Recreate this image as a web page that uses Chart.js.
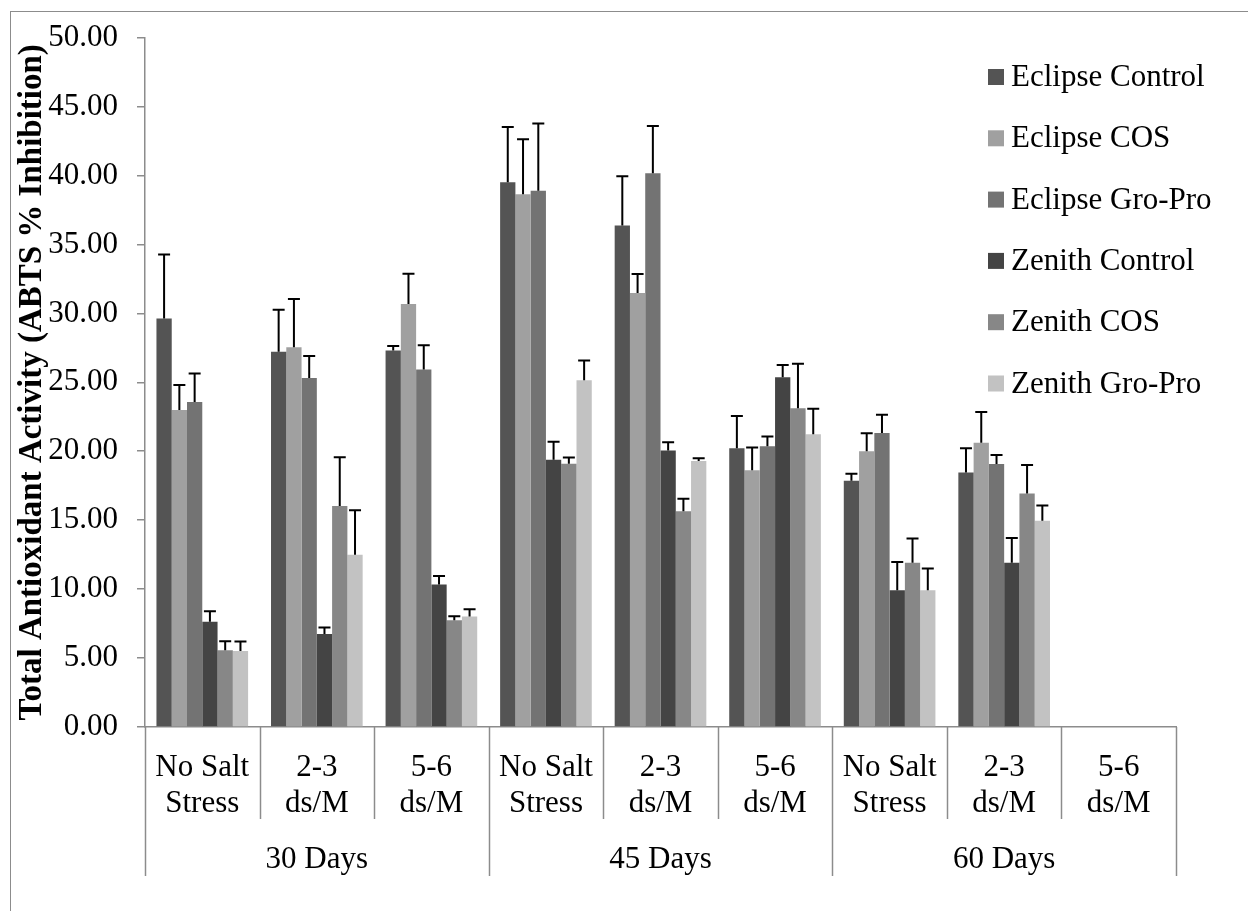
<!DOCTYPE html>
<html>
<head>
<meta charset="utf-8">
<title>Total Antioxidant Activity</title>
<script src="https://cdn.jsdelivr.net/npm/chart.js@4.4.1/dist/chart.umd.min.js"></script>
<style>
  html, body { margin: 0; padding: 0; background: #fff; overflow: hidden; }
  #wrap { position: relative; width: 1248px; height: 911px; }
  #frame { position: absolute; left: 10px; top: 11px; width: 1300px; height: 1000px; border: 1.5px solid #8c8c8c; box-sizing: border-box; }
  #chartCanvas { position: absolute; left: 0; top: 0; }
</style>
</head>
<body>
<div id="wrap">
  <div id="frame"></div>
  <canvas id="chartCanvas" width="1248" height="911"></canvas>
</div>
<script>
// --- data ---
const conditions = [
  ["No Salt", "Stress"], ["2-3", "ds/M"], ["5-6", "ds/M"],
  ["No Salt", "Stress"], ["2-3", "ds/M"], ["5-6", "ds/M"],
  ["No Salt", "Stress"], ["2-3", "ds/M"], ["5-6", "ds/M"]
];
const stages = ["30 Days", "45 Days", "60 Days"];
const seriesNames = ["Eclipse Control", "Eclipse COS", "Eclipse Gro-Pro", "Zenith Control", "Zenith COS", "Zenith Gro-Pro"];
const yTicks = [0, 5, 10, 15, 20, 25, 30, 35, 40, 45, 50];

const eclipseControl    = [29.63, 27.22, 27.31, 39.51, 36.37, 20.21, 17.86, 18.45, 0];
const eclipseControlErr = [4.63, 3.05, 0.32, 4.00, 3.58, 2.35, 0.50, 1.76, 0];
const eclipseCos        = [23.00, 27.54, 30.68, 38.63, 31.48, 18.63, 20.00, 20.62, 0];
const eclipseCosErr     = [1.80, 3.50, 2.20, 4.00, 1.38, 1.64, 1.30, 2.23, 0];
const eclipseGroPro     = [23.58, 25.32, 25.93, 38.90, 40.16, 20.36, 21.33, 19.07, 0];
const eclipseGroProErr  = [2.05, 1.58, 1.76, 4.87, 3.43, 0.70, 1.32, 0.65, 0];
const zenithControl     = [7.63, 6.75, 10.33, 19.39, 20.06, 25.37, 9.91, 11.91, 0];
const zenithControlErr  = [0.76, 0.47, 0.62, 1.29, 0.59, 0.88, 2.05, 1.79, 0];
const zenithCos         = [5.57, 16.02, 7.74, 19.10, 15.64, 23.12, 11.91, 16.93, 0];
const zenithCosErr      = [0.65, 3.55, 0.30, 0.44, 0.91, 3.22, 1.76, 2.08, 0];
const zenithGroPro      = [5.51, 12.50, 8.01, 25.14, 19.30, 21.24, 9.91, 14.96, 0];
const zenithGroProErr   = [0.70, 3.22, 0.53, 1.44, 0.20, 1.85, 1.58, 1.11, 0];

const seriesValues = [eclipseControl, eclipseCos, eclipseGroPro, zenithControl, zenithCos, zenithGroPro];
const seriesErrors = [eclipseControlErr, eclipseCosErr, eclipseGroProErr, zenithControlErr, zenithCosErr, zenithGroProErr];
const seriesColors = ["#545454", "#a0a0a0", "#737373", "#444444", "#878787", "#c2c2c2"];

const FONT = "'Liberation Serif', 'Times New Roman', serif";
const AXIS_GREY = "#8c8c8c";

// --- error bars (upper only) ---
const errorBars = {
  id: "errorBars",
  afterDatasetsDraw(chart) {
    const { ctx, scales: { y } } = chart;
    ctx.save();
    ctx.strokeStyle = "#000";
    ctx.lineWidth = 2;
    chart.data.datasets.forEach((ds, di) => {
      const meta = chart.getDatasetMeta(di);
      meta.data.forEach((bar, i) => {
        const err = seriesErrors[di][i];
        if (!err) return;
        const top = y.getPixelForValue(ds.data[i] + err);
        ctx.beginPath();
        ctx.moveTo(bar.x, bar.y);
        ctx.lineTo(bar.x, top);
        ctx.moveTo(bar.x - 6, top);
        ctx.lineTo(bar.x + 6, top);
        ctx.stroke();
      });
    });
    ctx.restore();
  }
};

// --- two-level category axis: separators + stage labels ---
const groupAxis = {
  id: "groupAxis",
  afterDraw(chart) {
    const { ctx, scales: { x } } = chart;
    const base = chart.chartArea.bottom;
    const step = (x.right - x.left) / conditions.length;
    ctx.save();
    ctx.strokeStyle = AXIS_GREY;
    ctx.lineWidth = 1.5;
    for (let i = 0; i <= conditions.length; i++) {
      const px = Math.round(x.left + i * step) + 0.5;
      ctx.beginPath();
      ctx.moveTo(px, base);
      ctx.lineTo(px, i % 3 === 0 ? 876 : 819);
      ctx.stroke();
    }
    ctx.fillStyle = "#000";
    ctx.font = "31px " + FONT;
    ctx.textAlign = "center";
    ctx.textBaseline = "alphabetic";
    stages.forEach((s, g) => {
      ctx.fillText(s, x.left + (g * 3 + 1.5) * step, 868);
    });
    ctx.restore();
  }
};

// --- legend inside the plot, on the right ---
const sideLegend = {
  id: "sideLegend",
  afterDraw(chart) {
    const { ctx } = chart;
    ctx.save();
    ctx.font = "31px " + FONT;
    ctx.textBaseline = "middle";
    ctx.textAlign = "left";
    seriesNames.forEach((name, i) => {
      const cy = 77 + i * 61.3;
      ctx.fillStyle = seriesColors[i];
      ctx.fillRect(988, cy - 8, 16, 16);
      ctx.fillStyle = "#000";
      ctx.fillText(name, 1011, cy + 1);
    });
    ctx.restore();
  }
};

const canvas = document.getElementById("chartCanvas");

new Chart(canvas, {
  type: "bar",
  data: {
    labels: conditions,
    datasets: seriesNames.map((name, i) => ({
      label: name,
      data: seriesValues[i],
      backgroundColor: seriesColors[i],
      borderWidth: 0,
      categoryPercentage: 0.8,
      barPercentage: 1.0
    }))
  },
  options: {
    responsive: false,
    animation: false,
    devicePixelRatio: 1,
    layout: { padding: { left: 0, top: 32, right: 72, bottom: 0 } },
    plugins: {
      legend: { display: false },
      tooltip: { enabled: false }
    },
    scales: {
      x: {
        afterFit(scale) { scale.height = 184; },
        grid: { display: false },
        border: { color: AXIS_GREY, width: 1.5 },
        ticks: {
          color: "#000",
          font: { family: FONT, size: 31, lineHeight: 1.16 },
          maxRotation: 0,
          autoSkip: false,
          padding: 15
        }
      },
      y: {
        min: 0,
        max: 50,
        afterFit(scale) { scale.width = 145; },
        afterBuildTicks(scale) { scale.ticks = yTicks.map(v => ({ value: v })); },
        grid: { drawOnChartArea: false, drawTicks: true, tickLength: 8, color: AXIS_GREY, lineWidth: 1.5 },
        border: { color: AXIS_GREY, width: 1.5 },
        ticks: {
          color: "#000",
          font: { family: FONT, size: 31 },
          padding: 19,
          callback: v => Number(v).toFixed(2)
        },
        title: {
          display: true,
          text: "Total Antioxidant Activity (ABTS % Inhibition)",
          color: "#000",
          font: { family: FONT, size: 33, weight: "bold" },
          padding: { top: 13, bottom: 0 }
        }
      }
    }
  },
  plugins: [errorBars, groupAxis, sideLegend]
});
</script>
</body>
</html>
